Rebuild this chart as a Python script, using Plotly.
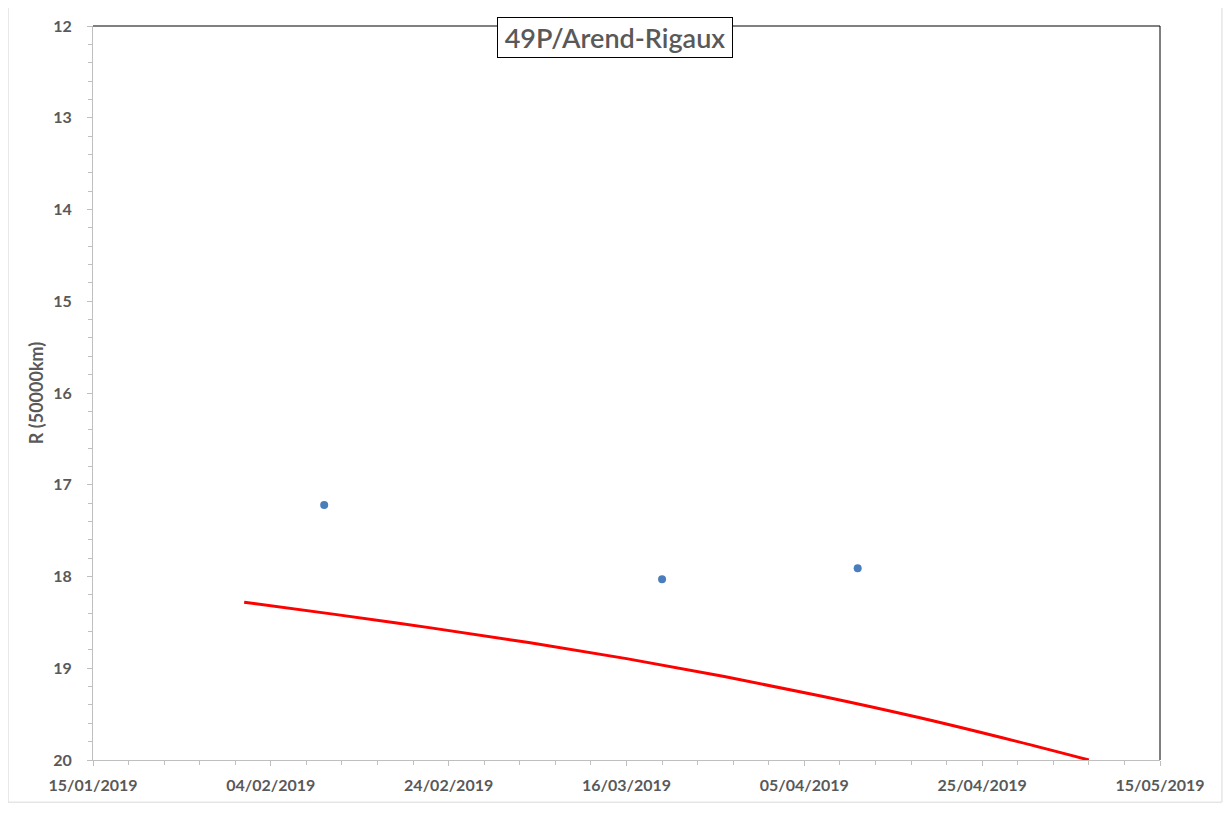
import plotly.graph_objects as go

# ---- data ----
obs_dates = ["2019-02-10", "2019-03-20", "2019-04-11"]
obs_R = [17.22, 18.03, 17.91]

model_dates = ["2019-02-01", "2019-02-11", "2019-02-22", "2019-03-05", "2019-03-16",
               "2019-03-27", "2019-04-07", "2019-04-18", "2019-04-29", "2019-05-07"]
model_R = [18.28, 18.41, 18.56, 18.72, 18.895, 19.09, 19.305, 19.54, 19.80, 20.00]

title_text = "49P/Arend-Rigaux"
y_title = "R (50000km)"
x_range = ["2019-01-15", "2019-05-15"]
y_range = [20, 12]

DAY = 86400000
OFF = 8  # page body margin in the browser
W, H = 1231 - OFF, 813 - OFF
# target plot area in window pixels: x 92.5..1160.5, y 26..760.3
L, T = 92.5 - OFF, 26 - OFF
pw, ph = 1068.0, 734.3
R = W - L - pw
B = H - T - ph

def px_to_paper_x(px):
    return (px - OFF - L) / pw

def px_to_paper_y(py):
    return (T + ph - (py - OFF)) / ph

TXT = "#595959"
AX = "#bfbfbf"
FONT = "Lato"

fig = go.Figure()
fig.add_trace(go.Scatter(x=model_dates, y=model_R, mode="lines",
                         line=dict(color="#ff0000", width=3, shape="spline", smoothing=1.0),
                         showlegend=False))
fig.add_trace(go.Scatter(x=obs_dates, y=obs_R, mode="markers",
                         marker=dict(color="#4a7ebb", size=8), showlegend=False))

fig.update_layout(
    width=W, height=H,
    margin=dict(l=L, r=R, t=T, b=B, autoexpand=False),
    paper_bgcolor="white", plot_bgcolor="white",
    font=dict(family=FONT, color=TXT),
    xaxis=dict(type="date", range=x_range, tick0=x_range[0], dtick=20 * DAY,
               tickformat="%d/%m/%Y", showgrid=False, zeroline=False,
               showline=True, linecolor=AX, linewidth=1,
               ticks="outside", ticklen=5, tickcolor=AX,
               ticklabelstandoff=6,
               tickfont=dict(family=FONT, size=16, color=TXT, weight="bold"),
               minor=dict(dtick=4 * DAY, tick0=x_range[0], ticks="outside",
                          ticklen=4, tickcolor=AX, showgrid=False)),
    yaxis=dict(range=y_range, dtick=1, showgrid=False, zeroline=False,
               showline=True, linecolor=AX, linewidth=1,
               ticks="outside", ticklen=5, tickcolor=AX,
               ticklabelstandoff=12,
               tickfont=dict(family=FONT, size=16, color=TXT, weight="bold"),
               minor=dict(dtick=0.2, ticks="outside", ticklen=4, tickcolor=AX,
                          showgrid=False),
               title=dict(text="<b>" + y_title + "</b>", standoff=4,
                          font=dict(family=FONT, size=18, color=TXT))),
    shapes=[
        dict(type="line", xref="paper", yref="paper", x0=0, x1=1, y0=1, y1=1,
             line=dict(color="black", width=1)),
        dict(type="line", xref="paper", yref="paper", x0=1, x1=1, y0=0, y1=1,
             line=dict(color="black", width=1)),
        dict(type="rect", xref="paper", yref="paper",
             x0=px_to_paper_x(7.5), x1=px_to_paper_x(1222.5),
             y0=px_to_paper_y(802.5), y1=px_to_paper_y(7.5),
             line=dict(color="#d9d9d9", width=1), layer="below"),
    ],
    annotations=[
        dict(text=title_text, xref="paper", yref="paper",
             x=px_to_paper_x(615.3), y=px_to_paper_y(37.8),
             xanchor="center", yanchor="middle", showarrow=False,
             font=dict(family=FONT, size=27, color=TXT, weight=600),
             bgcolor="white", bordercolor="black", borderwidth=1, borderpad=3,
             width=228, height=33),
    ],
)

fig.write_html("out.html")
